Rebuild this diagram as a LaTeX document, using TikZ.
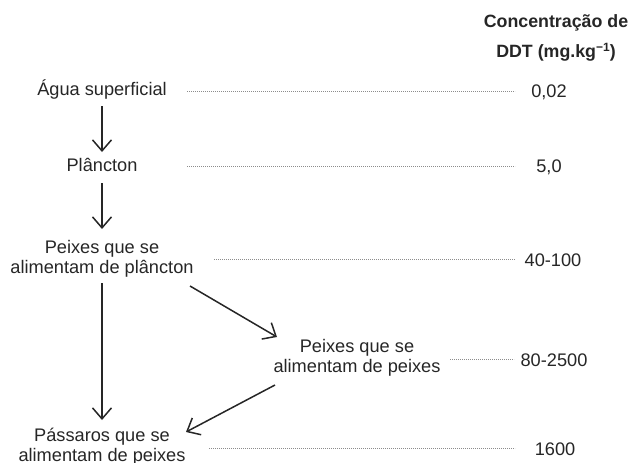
\documentclass[tikz,border=0pt]{standalone}
\usepackage{fontspec}
\setmainfont{Liberation Sans}
\usetikzlibrary{arrows.meta}
\begin{document}
\begin{tikzpicture}[x=1pt,y=-1pt,
  lbl/.style={inner sep=0pt,outer sep=0pt,anchor=base,align=center,font=\fontsize{18.2}{20}\selectfont,text=black!85},
  val/.style={lbl},
  arr/.style={line width=1.5pt,black!85,-{Straight Barb[length=11pt,width=19pt,line width=1.5pt]}},
  leader/.style={line width=0.6pt,black!45,dash pattern=on 0.6pt off 1.4pt}]
\useasboundingbox (0,0) rectangle (629,463);
% header (base = last line)
\node[lbl,font=\fontsize{17.8}{30}\selectfont\bfseries] (head) at (556,57) {Concentração de\\DDT (mg.kg\raisebox{6pt}{\fontsize{12}{12}\selectfont −1})};
% species
\node[lbl] (agua) at (102,95) {Água superficial};
\node[lbl] (planc) at (102,171) {Plâncton};
\node[lbl] (pp) at (102,273) {Peixes que se\\alimentam de plâncton};
\node[lbl] (pf) at (357,372) {Peixes que se\\alimentam de peixes};
\node[lbl] (pa) at (102,461) {Pássaros que se\\alimentam de peixes};
% values
\node[val] (v1) at (549,97) {0,02};
\node[val] (v2) at (549,172) {5,0};
\node[val] (v3) at (553,266) {40-100};
\node[val] (v4) at (554,366) {80-2500};
\node[val] (v5) at (555,455) {1600};
% leader ends
\coordinate (d1a) at (187,91); \coordinate (d1b) at (515,91);
\coordinate (d2a) at (187,166); \coordinate (d2b) at (515,166);
\coordinate (d3a) at (214,259); \coordinate (d3b) at (515,259);
\coordinate (d4a) at (450,359); \coordinate (d4b) at (514,359);
\coordinate (d5a) at (209,448); \coordinate (d5b) at (515,448);
\draw[leader] (d1a) -- (d1b);
\draw[leader] (d2a) -- (d2b);
\draw[leader] (d3a) -- (d3b);
\draw[leader] (d4a) -- (d4b);
\draw[leader] (d5a) -- (d5b);
% arrow ends
\coordinate (a1s) at (102,106); \coordinate (a1e) at (102,152);
\coordinate (a2s) at (102,183); \coordinate (a2e) at (102,229);
\coordinate (a3s) at (102,283); \coordinate (a3e) at (102,420);
\coordinate (a4s) at (190,286); \coordinate (a4e) at (277,337);
\coordinate (a5s) at (275,385); \coordinate (a5e) at (186,432);
\draw[arr] (a1s) -- (a1e);
\draw[arr] (a2s) -- (a2e);
\draw[arr] (a3s) -- (a3e);
\draw[arr] (a4s) -- (a4e);
\draw[arr] (a5s) -- (a5e);
\end{tikzpicture}
\end{document}
